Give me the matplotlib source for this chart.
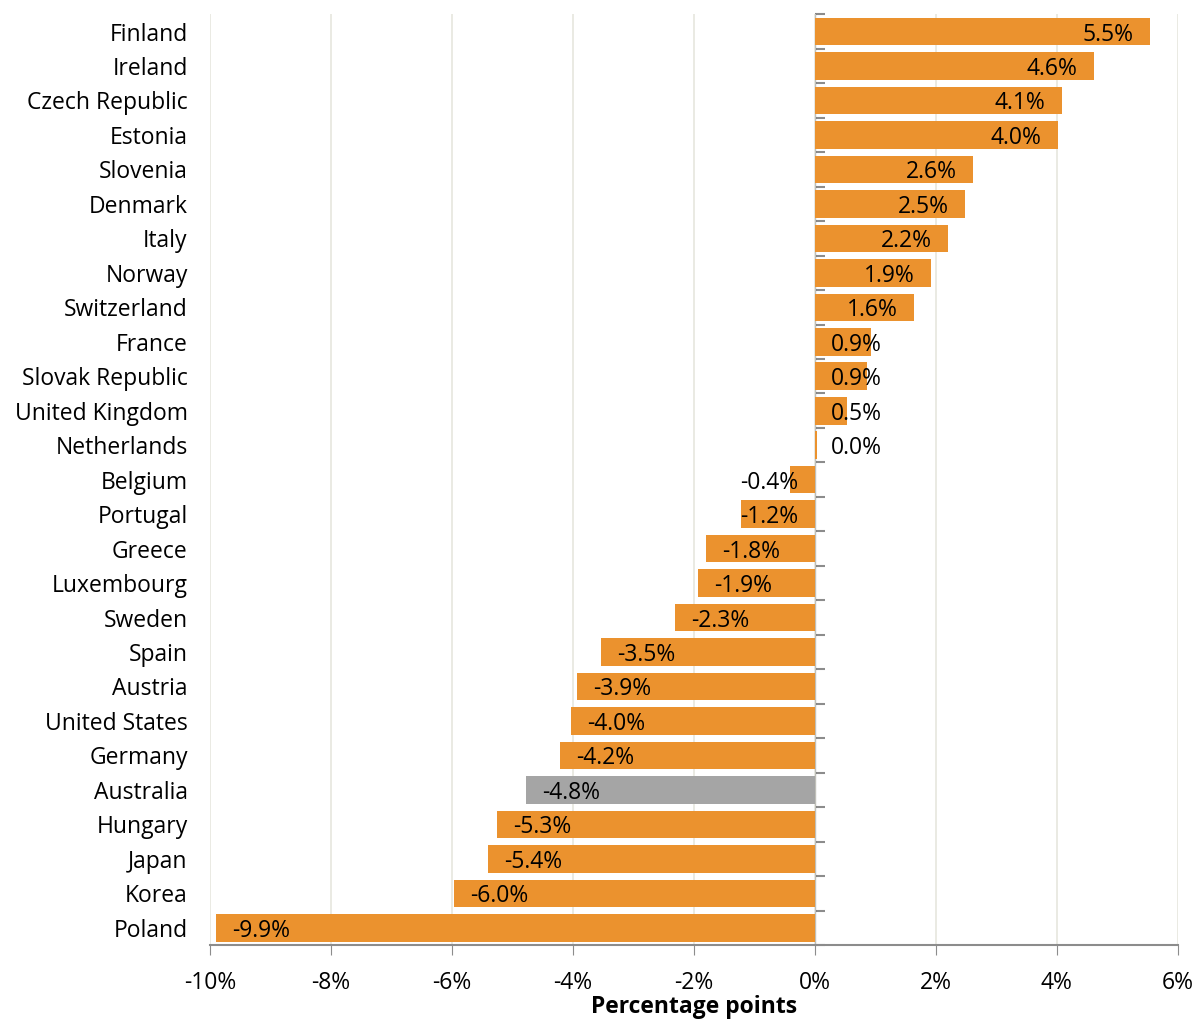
import matplotlib
matplotlib.use("Agg")
import matplotlib.pyplot as plt
import numpy as np

# data (top to bottom)
countries = ["Finland", "Ireland", "Czech Republic", "Estonia", "Slovenia", "Denmark",
             "Italy", "Norway", "Switzerland", "France", "Slovak Republic",
             "United Kingdom", "Netherlands", "Belgium", "Portugal", "Greece",
             "Luxembourg", "Sweden", "Spain", "Austria", "United States", "Germany",
             "Australia", "Hungary", "Japan", "Korea", "Poland"]
values = [5.54, 4.61, 4.08, 4.02, 2.61, 2.48, 2.20, 1.92, 1.64, 0.93, 0.86,
          0.53, 0.03, -0.41, -1.22, -1.80, -1.93, -2.31, -3.54, -3.94, -4.03,
          -4.21, -4.78, -5.26, -5.40, -5.97, -9.90]
highlight = "Australia"

xticks = [-10, -8, -6, -4, -2, 0, 2, 4, 6]

orange = "#EB922E"
grey = "#A5A5A5"
axis_grey = "#8C8C8C"
fs = 16.5

plt.rcParams['font.family'] = ['Open Sans', 'DejaVu Sans']

fig = plt.figure(figsize=(11.97, 10.21), dpi=100)
ax = fig.add_axes([0.1754, 0.0744, 0.8086, 0.9116])

n = len(countries)
y = np.arange(n)[::-1]
colors = [grey if c == highlight else orange for c in countries]
ax.barh(y, values, height=0.8, color=colors, zorder=3)

# data labels, Excel "inside end" style, pushed off the axis for short bars
lab_w = 0.85
pad = 0.27
for yi, v in zip(y, values):
    txt = f"{v:.1f}%"
    kw = dict(va="center_baseline", fontsize=fs, zorder=4)
    if v >= 0:
        if v - pad - lab_w < pad:
            ax.text(pad, yi, txt, ha="left", **kw)
        else:
            ax.text(v - pad, yi, txt, ha="right", **kw)
    else:
        if v + pad + lab_w > -pad:
            ax.text(-pad, yi, txt, ha="right", **kw)
        else:
            ax.text(v + pad, yi, txt, ha="left", **kw)

ax.set_xlim(-10, 6)
ax.set_ylim(-0.5, n - 0.5)
ax.set_xticks(xticks)
ax.set_xticklabels([f"{t}%" for t in xticks], fontsize=fs)
ax.tick_params(axis="x", direction="out", length=7, color=axis_grey, pad=12)
ax.set_yticks(y)
ax.set_yticklabels(countries, fontsize=fs)
ax.tick_params(axis="y", length=0, pad=16)
ax.xaxis.grid(True, color="#E6E6DE", linewidth=1.2, zorder=0)
ax.set_axisbelow(True)

for s in ["top", "right", "left"]:
    ax.spines[s].set_visible(False)
ax.spines["bottom"].set_color(axis_grey)
ax.spines["bottom"].set_linewidth(1.5)

# vertical axis through zero with ticks between categories
zero_pos = (0 - xticks[0]) / (xticks[-1] - xticks[0])
sec = ax.secondary_yaxis(zero_pos)
sec.set_yticks(np.arange(n + 1) - 0.5)
sec.set_yticklabels([])
sec.tick_params(direction="out", length=7, color=axis_grey, width=1.5)
sec.spines["left"].set_color(axis_grey)
sec.spines["left"].set_linewidth(1.5)

ax.set_xlabel("Percentage points", fontsize=fs, fontweight="bold", labelpad=0)

fig.savefig("out.png", dpi=100)
